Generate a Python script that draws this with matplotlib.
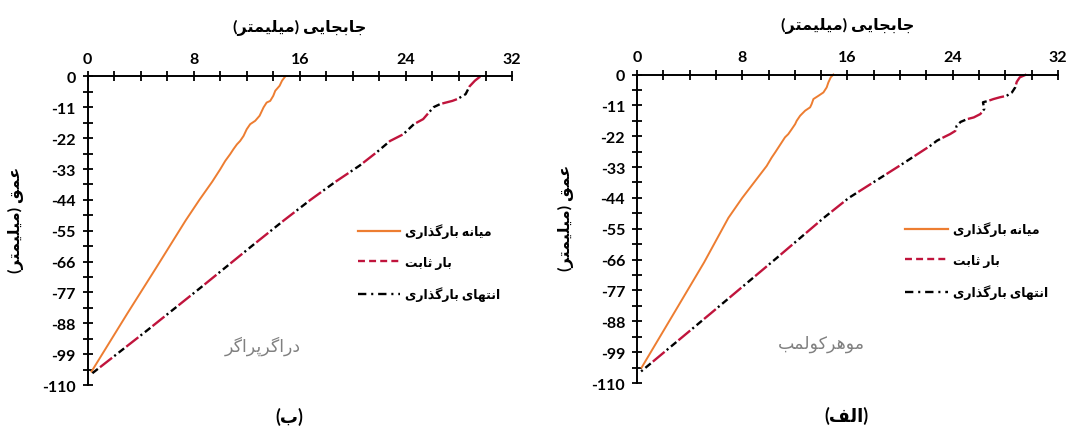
import matplotlib
matplotlib.use("Agg")
import matplotlib.pyplot as plt
from matplotlib.lines import Line2D
from matplotlib.ticker import MultipleLocator, FormatStrFormatter

# Persian shaping: isolated, final, initial, medial presentation forms
FORMS = {
    "ا": ("\uFE8D", "\uFE8E", None, None),
    "ب": ("\uFE8F", "\uFE90", "\uFE91", "\uFE92"),
    "پ": ("\uFB56", "\uFB57", "\uFB58", "\uFB59"),
    "ت": ("\uFE95", "\uFE96", "\uFE97", "\uFE98"),
    "ث": ("\uFE99", "\uFE9A", "\uFE9B", "\uFE9C"),
    "ج": ("\uFE9D", "\uFE9E", "\uFE9F", "\uFEA0"),
    "د": ("\uFEA9", "\uFEAA", None, None),
    "ذ": ("\uFEAB", "\uFEAC", None, None),
    "ر": ("\uFEAD", "\uFEAE", None, None),
    "ز": ("\uFEAF", "\uFEB0", None, None),
    "ع": ("\uFEC9", "\uFECA", "\uFECB", "\uFECC"),
    "ف": ("\uFED1", "\uFED2", "\uFED3", "\uFED4"),
    "ق": ("\uFED5", "\uFED6", "\uFED7", "\uFED8"),
    "ک": ("\uFB8E", "\uFB8F", "\uFB90", "\uFB91"),
    "گ": ("\uFB92", "\uFB93", "\uFB94", "\uFB95"),
    "ل": ("\uFEDD", "\uFEDE", "\uFEDF", "\uFEE0"),
    "م": ("\uFEE1", "\uFEE2", "\uFEE3", "\uFEE4"),
    "ن": ("\uFEE5", "\uFEE6", "\uFEE7", "\uFEE8"),
    "ه": ("\uFEE9", "\uFEEA", "\uFEEB", "\uFEEC"),
    "و": ("\uFEED", "\uFEEE", None, None),
    "ی": ("\uFBFC", "\uFBFD", "\uFBFE", "\uFBFF"),
}


def fa(text):
    out = []
    for i, ch in enumerate(text):
        if ch not in FORMS:
            out.append(ch)
            continue
        prev = text[i - 1] if i > 0 else ""
        nxt = text[i + 1] if i + 1 < len(text) else ""
        iso, fin, ini, med = FORMS[ch]
        jp = prev in FORMS and FORMS[prev][2] is not None
        jn = ini is not None and nxt in FORMS
        if jp and jn:
            out.append(med)
        elif jp:
            out.append(fin)
        elif jn:
            out.append(ini)
        else:
            out.append(iso)
    s = "".join(reversed(out))
    return s.translate(str.maketrans("()", ")("))


# ---- data: displacement (mm) vs depth (mm) ----
# (ب) Drucker-Prager
dp_mid_x = [14.9, 14.66, 14.48, 14.15, 14.0, 13.77, 13.5, 13.27, 12.97, 12.64, 12.26, 12.0,
            11.76, 11.5, 11.26, 11.0, 10.75, 10.38, 10.0, 9.4, 8.43, 7.4, 5.2, 3.0, 0.3]
dp_mid_d = [0, -1.5, -3.3, -5.1, -6.9, -8.7, -9.3, -11.0, -14.0, -15.8, -17.0, -18.8,
            -21.2, -23.0, -24.2, -25.9, -27.7, -30.1, -33.1, -37.5, -44, -51.3, -68, -84.5, -105.2]
dp_fix_x = [29.6, 29.2, 28.8, 28.5, 27.9, 27.5, 26.6, 26.1, 25.7, 25.3, 24.6, 23.8, 22.8,
            21.8, 20.5, 18.7, 16.8, 14.8, 12.5, 8.6, 4.5, 0.2]
dp_fix_d = [0, -1.5, -3.5, -6.3, -8.0, -8.7, -9.8, -10.9, -13.0, -15.2, -17.0, -20.6, -23.0,
            -27.0, -31.8, -37.5, -44.0, -51.3, -60.0, -75.0, -90.5, -106.4]
dp_end_x = [29.6, 29.2, 28.8, 28.5, 27.9, 27.5, 26.6, 26.1, 25.7, 25.3, 24.6, 23.8, 22.8,
            21.8, 20.5, 18.7, 16.8, 14.8, 12.5, 8.6, 4.5, 0.2]
dp_end_d = [0, -1.5, -3.5, -6.3, -8.0, -8.7, -9.8, -10.9, -13.0, -15.2, -17.0, -20.6, -23.0,
            -27.0, -31.8, -37.5, -44.0, -51.3, -60.0, -75.0, -90.5, -106.4]

# (الف) Mohr-Coulomb
mc_mid_x = [14.93, 14.73, 14.55, 14.42, 14.17, 13.79, 13.41, 13.28, 13.16, 12.78, 12.4, 12.14,
            12.02, 11.76, 11.5, 11.25, 11.0, 10.75, 10.5, 10.24, 9.86, 8.0, 6.95, 5.1, 2.95, 0.35]
mc_mid_d = [0, -1.0, -2.8, -4.6, -6.4, -7.6, -8.75, -10.5, -11.7, -12.9, -14.7, -16.5,
            -17.7, -19.5, -21.25, -22.4, -24.2, -26.0, -27.8, -29.6, -32.6, -44, -51.1, -67, -84, -104.5]
mc_fix_x = [29.6, 29.1, 28.87, 28.75, 28.5, 28.1, 27.6, 27.1, 26.7, 26.3, 26.4, 26.1, 25.6,
            25.1, 24.6, 24.3, 24.2, 23.8, 23.3, 22.8, 22.3, 20.07, 16.1, 14.2, 10.6, 5.6, 0.15]
mc_fix_d = [0, -1.0, -2.6, -4.6, -6.4, -7.6, -8.1, -8.75, -9.4, -9.9, -12.3, -14.1, -15.3,
            -15.9, -16.9, -18.3, -20.1, -21.25, -22.4, -23.6, -25.4, -32.2, -44, -51.1, -65.5, -85.2, -106.5]
mc_end_x = [29.6, 29.1, 28.87, 28.75, 28.5, 28.1, 27.6, 27.1, 26.7, 26.3, 26.4, 26.1, 25.6,
            25.1, 24.6, 24.3, 24.2, 23.8, 23.3, 22.8, 22.3, 20.07, 16.1, 14.2, 10.6, 5.6, 0.15]
mc_end_d = [0, -1.0, -2.6, -4.6, -6.4, -7.6, -8.1, -8.75, -9.4, -9.9, -12.3, -14.1, -15.3,
            -15.9, -16.9, -18.3, -20.1, -21.25, -22.4, -23.6, -25.4, -32.2, -44, -51.1, -65.5, -85.2, -106.5]

labels = ["میانه بارگذاری", "بار ثابت", "انتهای بارگذاری"]
xlabel = "جابجایی (میلیمتر)"
ylabel = "عمق (میلیمتر)"

ORANGE = "#ED7D31"
RED = "#C0143C"

plt.rcParams['font.family'] = ['Lato', 'DejaVu Sans']
plt.rcParams['font.weight'] = 'bold'
plt.rcParams['axes.unicode_minus'] = False
plt.rcParams['lines.scale_dashes'] = False

fig = plt.figure(figsize=(10.78, 4.31), dpi=100)
ax_dp = fig.add_axes([0.0812, 0.1044, 0.3938, 0.7158])
ax_mc = fig.add_axes([0.5909, 0.1090, 0.3905, 0.7158])

panels = [
    (ax_dp, dp_mid_x, dp_mid_d, dp_fix_x, dp_fix_d, dp_end_x, dp_end_d, "دراگرپراگر", 13.2, -96),
    (ax_mc, mc_mid_x, mc_mid_d, mc_fix_x, mc_fix_d, mc_end_x, mc_end_d, "موهرکولمب", 14.0, -96),
]

# legend keys drawn with the short dash patterns used in the original legend
handles = [
    Line2D([], [], color=ORANGE, lw=1.6),
    Line2D([], [], color=RED, lw=1.7, linestyle=(0, (5, 3))),
    Line2D([], [], color="black", lw=1.7, linestyle=(0, (6, 3.5, 1.5, 3.5))),
]

for ax, mx, md, fx, fd, ex, ed, name, tx, ty in panels:
    ax.plot(mx, md, color=ORANGE, lw=1.4, clip_on=False)
    ax.plot(fx, fd, color=RED, lw=1.7, linestyle=(0, (11, 13)), clip_on=False)
    ax.plot(ex, ed, color="black", lw=1.7, linestyle=(11, (5, 2.5, 1.5, 15)), clip_on=False)

    ax.set_xlim(0, 32)
    ax.set_ylim(-110, 0)
    ax.xaxis.set_major_locator(MultipleLocator(8))
    ax.xaxis.set_minor_locator(MultipleLocator(2))
    ax.yaxis.set_major_locator(MultipleLocator(11))
    ax.yaxis.set_minor_locator(MultipleLocator(5.5))
    ax.yaxis.set_major_formatter(FormatStrFormatter('%d'))

    ax.spines['bottom'].set_visible(False)
    ax.spines['right'].set_visible(False)
    ax.spines['top'].set_linewidth(1.4)
    ax.spines['left'].set_linewidth(1.4)
    ax.xaxis.tick_top()
    ax.tick_params(which='both', direction='inout', length=7, width=1.3,
                   labelsize=11.5, colors='black')
    ax.tick_params(axis='x', pad=4)
    ax.tick_params(axis='y', pad=5)

    ax.xaxis.set_label_position('top')
    ax.set_xlabel(fa(xlabel), fontsize=11.5, fontweight='bold', labelpad=15)
    ax.set_ylabel(fa(ylabel), fontsize=11.5, fontweight='bold')
    ax.yaxis.set_label_coords(-0.15, 0.54)

    ax.text(tx, ty, fa(name), color="#808080", fontsize=12.5, fontweight='normal',
            ha='center', va='center')

    ax.legend(handles, [fa(s) for s in labels], loc='upper left',
              bbox_to_anchor=(0.61, 0.56), frameon=False,
              fontsize=9, handlelength=3.4, handletextpad=0.4, labelspacing=1.4)

fig.text(0.268, 0.032, fa("(ب)"), fontsize=13, fontweight='bold', ha='center', va='center')
fig.text(0.785, 0.036, fa("(الف)"), fontsize=13, fontweight='bold', ha='center', va='center')

fig.savefig("out.png", dpi=100)
